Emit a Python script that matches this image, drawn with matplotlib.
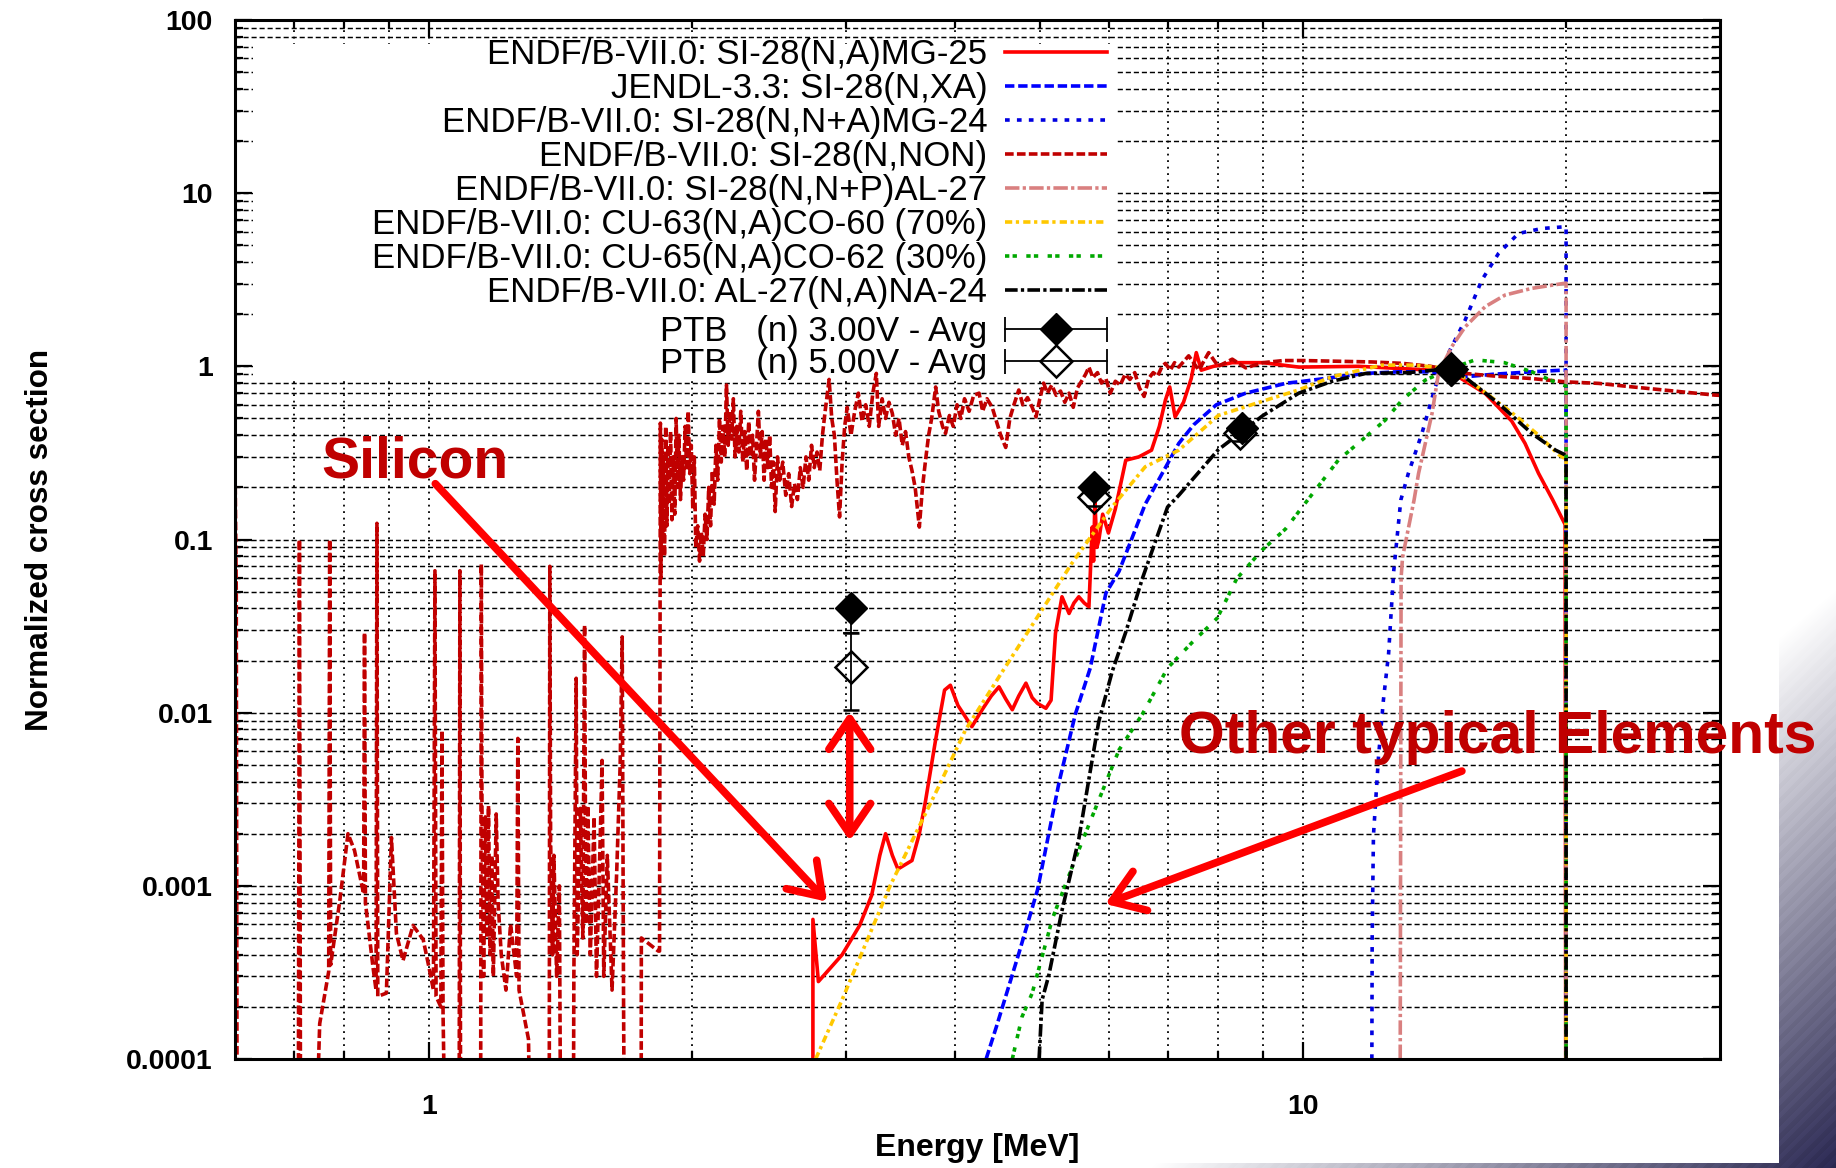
import numpy as np
import matplotlib.pyplot as plt
from matplotlib.lines import Line2D
from matplotlib.patches import Rectangle
from matplotlib.legend_handler import HandlerLine2D, HandlerTuple
from matplotlib.ticker import FixedLocator, FixedFormatter, NullFormatter

plt.rcParams['font.family'] = ['Liberation Sans', 'DejaVu Sans']

# ---- curves: (energy [MeV], normalized cross section) ----
# 1e-6 marks "zero" (falls below the axis)
si28_na_mg25 = [(2.75, 1e-6), (2.75, 6.4e-4), (2.79, 2.8e-4), (2.97, 4.0e-4), (3.11, 5.9e-4),
                (3.21, 8.8e-4), (3.28, 1.5e-3), (3.33, 2.0e-3), (3.39, 1.5e-3), (3.44, 1.25e-3),
                (3.57, 1.4e-3), (3.64, 2.0e-3), (3.70, 3.1e-3), (3.80, 7.0e-3), (3.89, 0.0135),
                (3.95, 0.0144), (4.03, 0.011), (4.18, 0.0083), (4.30, 0.0105), (4.40, 0.0125),
                (4.49, 0.0141), (4.57, 0.012), (4.65, 0.0104), (4.73, 0.0125), (4.82, 0.0148),
                (4.90, 0.0122), (4.97, 0.0113), (5.08, 0.0106), (5.15, 0.0118), (5.21, 0.0287),
                (5.30, 0.0467), (5.40, 0.0374), (5.47, 0.043), (5.54, 0.0467), (5.62, 0.043),
                (5.69, 0.0409), (5.74, 0.118), (5.76, 0.075), (5.78, 0.169), (5.81, 0.09),
                (5.84, 0.099), (5.90, 0.14), (5.99, 0.109), (6.10, 0.15), (6.27, 0.287),
                (6.49, 0.30), (6.71, 0.328), (6.85, 0.45), (6.96, 0.638), (7.04, 0.76),
                (7.14, 0.511), (7.30, 0.62), (7.45, 0.85), (7.55, 1.2), (7.65, 0.95),
                (7.9, 1.0), (8.3, 1.05), (9.0, 1.05), (9.89, 0.99), (11.58, 1.0),
                (14.05, 0.95), (15.0, 0.88), (16.16, 0.698), (17.33, 0.483), (17.95, 0.359),
                (18.6, 0.241), (19.3, 0.17), (19.95, 0.122), (20.0, 1e-6)]

jendl_si28_nxa = [(4.34, 1e-4), (4.46, 1.54e-4), (4.73, 4.06e-4), (4.97, 9.5e-4), (5.26, 3.97e-3),
                  (5.49, 9.8e-3), (5.71, 0.0181), (5.95, 0.049), (6.16, 0.0655), (6.6, 0.16),
                  (7.21, 0.359), (7.5, 0.46), (7.96, 0.6), (8.6, 0.7), (9.58, 0.8), (9.89, 0.814),
                  (11.78, 0.91), (12.86, 0.93), (14.0, 0.93), (15.33, 0.87), (16.5, 0.9),
                  (18.27, 0.93), (19.8, 0.95), (20.0, 0.95), (20.0, 1e-6)]

si28_nna_mg24 = [(11.99, 1e-4), (12.0, 5e-4), (12.04, 1.95e-3), (12.2, 5.5e-3), (12.36, 0.0118),
                 (12.53, 0.0219), (12.7, 0.0655), (12.94, 0.169), (13.2, 0.241), (13.68, 0.41),
                 (14.17, 0.762), (14.67, 1.19), (15.33, 1.85), (16.02, 3.15), (16.74, 4.49),
                 (17.64, 5.85), (18.76, 6.25), (19.86, 6.39), (20.0, 6.4), (20.0, 1e-6)]

si28_non = [(0.600, 0.28), (0.602, 0.05), (0.604, 1e-6),
            (0.708, 1e-6), (0.711, 0.10), (0.714, 1e-6),
            (0.727, 1e-6), (0.75, 1.6e-4), (0.768, 3.2e-4), (0.770, 0.10), (0.772, 3.5e-4),
            (0.791, 8.3e-4), (0.808, 2.0e-3), (0.822, 1.6e-3), (0.835, 1.1e-3), (0.842, 9e-4),
            (0.844, 0.029), (0.846, 8e-4), (0.863, 3.4e-4), (0.870, 2.5e-4), (0.872, 0.124),
            (0.874, 2.3e-4), (0.894, 2.4e-4), (0.906, 1.9e-3), (0.918, 5.3e-4), (0.934, 3.7e-4),
            (0.959, 5.9e-4), (0.985, 4.9e-4), (1.0, 3.4e-4), (1.012, 2.5e-4), (1.016, 0.066),
            (1.019, 2.3e-4), (1.032, 2.0e-4), (1.035, 0.0079), (1.038, 1.8e-4), (1.055, 1e-6),
            (1.082, 1e-6), (1.085, 0.066), (1.088, 1e-6),
            (1.145, 1e-6), (1.148, 0.072), (1.150, 2.8e-3), (1.155, 3e-4), (1.160, 2.5e-3),
            (1.165, 5e-4), (1.170, 2.9e-3), (1.175, 4e-4), (1.180, 1.5e-3), (1.185, 3e-4),
            (1.194, 2.6e-3), (1.20, 8e-4), (1.21, 4e-4), (1.225, 2.5e-4), (1.24, 6e-4),
            (1.26, 3e-4), (1.264, 0.0071), (1.268, 2.5e-4), (1.30, 1.3e-4), (1.32, 1e-6),
            (1.372, 1e-6), (1.375, 0.07), (1.378, 1.8e-3), (1.385, 4e-4), (1.39, 1.5e-3),
            (1.40, 3e-4), (1.41, 1.0e-3), (1.42, 1e-6),
            (1.46, 1e-6), (1.465, 3e-4), (1.474, 0.0158), (1.478, 4e-4), (1.49, 2.8e-3),
            (1.50, 5e-4), (1.507, 0.032), (1.512, 6e-4), (1.52, 2.9e-3), (1.53, 4e-4),
            (1.545, 2.5e-3), (1.555, 3e-4), (1.57, 1.8e-3), (1.578, 5.3e-3), (1.585, 3e-4),
            (1.60, 1.5e-3), (1.62, 2.5e-4), (1.64, 1.2e-3), (1.655, 5e-3), (1.664, 0.0274),
            (1.67, 2e-4), (1.68, 1e-6),
            (1.748, 1e-6), (1.750, 5e-4), (1.83, 4.2e-4), (1.836, 4.2e-4),
            (1.840, 0.47), (1.843, 0.06), (1.846, 0.38), (1.850, 0.10), (1.855, 0.30),
            (1.860, 0.08), (1.866, 0.45), (1.872, 0.12), (1.878, 0.35), (1.884, 0.16),
            (1.890, 0.42), (1.897, 0.13), (1.904, 0.30), (1.911, 0.14), (1.918, 0.50),
            (1.925, 0.20), (1.932, 0.40), (1.940, 0.17), (1.948, 0.30), (1.956, 0.22),
            (1.964, 0.45), (1.972, 0.25), (1.980, 0.55), (1.988, 0.24), (1.996, 0.35),
            (2.004, 0.15), (2.012, 0.30), (2.020, 0.09), (2.030, 0.12), (2.040, 0.075),
            (2.050, 0.11), (2.060, 0.08), (2.070, 0.14), (2.080, 0.10), (2.090, 0.20),
            (2.100, 0.12), (2.110, 0.25), (2.120, 0.16), (2.130, 0.35), (2.140, 0.22),
            (2.150, 0.50), (2.160, 0.28), (2.170, 0.45), (2.180, 0.30), (2.190, 0.78),
            (2.200, 0.35), (2.210, 0.55), (2.220, 0.38), (2.230, 0.65), (2.240, 0.30),
            (2.250, 0.45), (2.262, 0.32), (2.274, 0.55), (2.286, 0.28), (2.298, 0.42),
            (2.310, 0.25), (2.322, 0.48), (2.334, 0.30), (2.346, 0.40), (2.358, 0.22),
            (2.370, 0.35), (2.382, 0.55), (2.394, 0.30), (2.406, 0.42), (2.418, 0.22),
            (2.430, 0.38), (2.442, 0.26), (2.454, 0.40), (2.466, 0.20), (2.478, 0.28),
            (2.490, 0.145), (2.505, 0.30), (2.52, 0.22), (2.54, 0.28), (2.56, 0.18),
            (2.58, 0.24), (2.60, 0.155), (2.62, 0.21), (2.64, 0.17), (2.66, 0.26),
            (2.68, 0.20), (2.70, 0.30), (2.72, 0.22), (2.74, 0.35), (2.76, 0.26),
            (2.78, 0.32), (2.80, 0.25), (2.82, 0.40), (2.84, 0.55), (2.87, 0.84),
            (2.89, 0.50), (2.91, 0.40), (2.93, 0.22), (2.95, 0.135), (2.97, 0.28),
            (2.99, 0.45), (3.01, 0.58), (3.04, 0.40), (3.07, 0.55), (3.10, 0.70),
            (3.13, 0.48), (3.16, 0.60), (3.19, 0.45), (3.22, 0.70), (3.25, 0.91),
            (3.27, 0.45), (3.30, 0.65), (3.33, 0.50), (3.36, 0.62), (3.39, 0.535),
            (3.42, 0.40), (3.45, 0.50), (3.48, 0.35), (3.51, 0.42), (3.54, 0.30),
            (3.57, 0.25), (3.60, 0.20), (3.64, 0.118), (3.67, 0.20), (3.70, 0.287),
            (3.73, 0.40), (3.76, 0.50), (3.80, 0.76), (3.83, 0.55), (3.87, 0.45),
            (3.90, 0.41), (3.94, 0.52), (3.98, 0.45), (4.02, 0.60), (4.06, 0.50),
            (4.10, 0.65), (4.15, 0.55), (4.20, 0.68), (4.26, 0.70), (4.30, 0.55),
            (4.35, 0.65), (4.41, 0.58), (4.46, 0.48), (4.51, 0.40), (4.57, 0.34),
            (4.62, 0.50), (4.67, 0.60), (4.73, 0.73), (4.78, 0.60), (4.84, 0.66),
            (4.90, 0.58), (4.95, 0.51), (5.00, 0.65), (5.05, 0.80), (5.10, 0.70),
            (5.16, 0.78), (5.22, 0.68), (5.28, 0.72), (5.34, 0.62), (5.40, 0.70),
            (5.46, 0.58), (5.52, 0.75), (5.58, 0.82), (5.64, 0.90), (5.69, 0.99),
            (5.75, 0.86), (5.82, 0.92), (5.88, 0.80), (5.95, 0.85), (6.02, 0.70),
            (6.10, 0.82), (6.18, 0.78), (6.26, 0.90), (6.34, 0.84), (6.42, 0.92),
            (6.50, 0.75), (6.58, 0.67), (6.66, 0.85), (6.74, 0.92), (6.82, 0.88),
            (6.90, 1.0), (6.96, 1.04), (7.05, 0.95), (7.13, 1.05), (7.21, 0.99),
            (7.4, 1.15), (7.6, 0.95), (7.8, 1.2), (8.0, 1.0), (8.3, 1.1), (8.6, 0.98),
            (9.0, 1.05), (9.5, 1.08), (10.0, 1.08), (11.0, 1.07), (12.0, 1.06), (13.0, 1.04),
            (14.0, 1.0), (15.33, 0.91), (16.5, 0.88), (18.27, 0.85), (19.95, 0.814),
            (21.8, 0.797), (23.8, 0.761), (25.95, 0.729), (29.6, 0.682), (30.0, 0.68)]

si28_nnp_al27 = [(12.92, 1e-4), (12.95, 0.06), (13.0, 0.079), (13.4, 0.169), (13.56, 0.241),
                 (14.05, 0.535), (14.29, 0.91), (14.8, 1.3), (15.33, 1.69), (16.16, 2.21),
                 (17.03, 2.58), (18.27, 2.82), (19.26, 2.94), (19.86, 3.01), (20.0, 3.02),
                 (20.0, 1e-6)]

cu63_na_co60 = [(2.77, 1e-4), (2.97, 2.2e-4), (3.37, 1.0e-3), (3.83, 3.74e-3), (4.11, 7.94e-3),
                (4.49, 0.0161), (4.97, 0.0358), (5.44, 0.0728), (6.05, 0.1545), (6.6, 0.263),
                (7.21, 0.328), (8.0, 0.52), (9.0, 0.63), (9.89, 0.731), (10.79, 0.87),
                (12.31, 1.016), (13.4, 1.016), (14.75, 0.97), (16.02, 0.731), (17.5, 0.52),
                (18.6, 0.40), (19.6, 0.31), (20.0, 0.29), (20.0, 1e-6)]

cu65_na_co62 = [(4.65, 1e-4), (4.77, 1.75e-4), (4.90, 2.4e-4), (5.17, 6.5e-4), (5.54, 1.61e-3),
                (5.84, 3.13e-3), (6.16, 6.1e-3), (6.55, 9.8e-3), (7.0, 0.0181), (7.46, 0.0253),
                (7.98, 0.0352), (8.4, 0.0595), (8.98, 0.0869), (9.55, 0.115), (10.05, 0.161),
                (10.98, 0.288), (11.68, 0.375), (12.42, 0.489), (12.98, 0.638), (13.8, 0.832),
                (14.75, 0.97), (15.74, 1.09), (17.0, 1.05), (18.27, 0.93), (19.6, 0.794),
                (20.0, 0.77), (20.0, 1e-6)]

al27_na_na24 = [(4.99, 1e-4), (5.03, 2.2e-4), (5.12, 3.05e-4), (5.30, 7.2e-4), (5.54, 1.86e-3),
                (5.71, 4.6e-3), (5.84, 8.9e-3), (6.05, 0.0173), (6.27, 0.0292), (6.55, 0.0595),
                (7.0, 0.154), (7.21, 0.18), (8.0, 0.33), (9.0, 0.52), (9.89, 0.70), (10.8, 0.82),
                (11.8, 0.91), (13.2, 0.92), (14.75, 0.97), (15.3, 0.87), (16.74, 0.61),
                (18.27, 0.41), (19.45, 0.328), (19.9, 0.31), (20.0, 0.30), (20.0, 1e-6)]

# PTB measurements (diamonds with error bars)
ptb3_e = [3.04, 5.77, 8.52, 14.75]
ptb3_y = [0.040, 0.20, 0.443, 0.95]
ptb3_lo = [0.011, 0.02, 0.04, 0.08]
ptb3_hi = [0.003, 0.02, 0.04, 0.08]
ptb5_e = [3.04, 5.77, 8.47, 14.75]
ptb5_y = [0.0184, 0.176, 0.41, 0.97]
ptb5_lo = [0.008, 0.02, 0.04, 0.08]
ptb5_hi = [0.0103, 0.02, 0.04, 0.08]

x_major = [1, 10]
x_major_labels = ['1', '10']
x_minor = [0.7, 0.8, 0.9, 2, 3, 4, 5, 6, 7, 8, 9, 20]
y_major = [1e-4, 1e-3, 1e-2, 1e-1, 1, 10, 100]
y_major_labels = ['0.0001', '0.001', '0.01', '0.1', '1', '10', '100']

W, H = 1836, 1168
fig = plt.figure(figsize=(W / 100, H / 100), dpi=100)

# slide background: white chart area, striped purple gradient in the bottom-right corner
bg = fig.add_axes([0, 0, 1, 1], zorder=-10)
yy, xx = np.mgrid[0:H, 0:W]
s = np.clip(1 + (548 * (xx - W) + 650 * (yy - H)) / 375928.0, 0, 1)
stripe = 1 - 0.07 * s * (np.sin(2 * np.pi * (xx + yy) / 14.0) > 0)
navy = np.array([0.17, 0.16, 0.33])
img = (1 - s[..., None]) + s[..., None] * navy
img = img * stripe[..., None]
img[:1163, :1779] = 1.0
bg.imshow(img, extent=[0, W, H, 0], aspect='auto', interpolation='nearest')
bg.set_xlim(0, W)
bg.set_ylim(H, 0)
bg.axis('off')

ax = fig.add_axes([235 / W, 1 - 1059 / H, 1485 / W, 1039 / H])
ax.set_xscale('log')
ax.set_yscale('log')

# opaque key box (hides the grid behind the legend, curves go over it)
ax.add_patch(Rectangle((0.012, 0.656), 0.581, 0.321, transform=ax.transAxes,
                       facecolor='white', edgecolor='none', zorder=1))

series = [
    (si28_na_mg25, 'ENDF/B-VII.0: SI-28(N,A)MG-25', '#FF0000', '-', 2.6),
    (jendl_si28_nxa, 'JENDL-3.3: SI-28(N,XA)', '#0000FF', (0, (2.6, 1.05)), 2.6),
    (si28_nna_mg24, 'ENDF/B-VII.0: SI-28(N,N+A)MG-24', '#0000E0', (0, (1.3, 2.0)), 2.6),
    (si28_non, 'ENDF/B-VII.0: SI-28(N,NON)', '#C00000', (0, (2.4, 0.9)), 2.6),
    (si28_nnp_al27, 'ENDF/B-VII.0: SI-28(N,N+P)AL-27', '#D98080', (0, (4.0, 0.9, 0.9, 0.9)), 2.6),
    (cu63_na_co60, 'ENDF/B-VII.0: CU-63(N,A)CO-60 (70%)', '#FFC800', (0, (2.0, 1.0, 0.9, 1.15)), 2.6),
    (cu65_na_co62, 'ENDF/B-VII.0: CU-65(N,A)CO-62 (30%)', '#00A800', (0, (1.2, 0.9, 1.2, 2.6)), 2.6),
    (al27_na_na24, 'ENDF/B-VII.0: AL-27(N,A)NA-24', 'black', (0, (3.5, 0.9, 0.9, 0.9)), 2.6),
]
line_handles = []
for pts, label, color, ls, lw in series:
    e, y = np.array(pts).T
    h, = ax.plot(e, y, color=color, linestyle=ls, lw=lw, label=label, zorder=2)
    line_handles.append(h)

ax.errorbar(ptb3_e, ptb3_y, yerr=[ptb3_lo, ptb3_hi], fmt='D', color='black', ms=16,
            ecolor='black', elinewidth=1.3, capsize=6, capthick=1.3, zorder=4)
ax.errorbar(ptb5_e, ptb5_y, yerr=[ptb5_lo, ptb5_hi], fmt='D', color='black', mfc='none',
            mec='black', mew=1.8, ms=16, ecolor='black', elinewidth=1.3, capsize=6,
            capthick=1.3, zorder=4)

ax.set_xlim(0.6, 30)
ax.set_ylim(1e-4, 100)
ax.xaxis.set_major_locator(FixedLocator(x_major))
ax.xaxis.set_major_formatter(FixedFormatter(x_major_labels))
ax.xaxis.set_minor_locator(FixedLocator(x_minor))
ax.xaxis.set_minor_formatter(NullFormatter())
ax.yaxis.set_major_locator(FixedLocator(y_major))
ax.yaxis.set_major_formatter(FixedFormatter(y_major_labels))
ax.yaxis.set_minor_locator(FixedLocator([m * 10.0 ** k for k in range(-4, 2) for m in range(2, 10)]))
ax.yaxis.set_minor_formatter(NullFormatter())

ax.tick_params(which='both', direction='in', top=True, right=True, width=1.6, color='black')
ax.tick_params(which='major', length=12)
ax.tick_params(which='minor', length=6)
ax.tick_params(axis='y', which='major', pad=16, labelsize=20.5)
ax.tick_params(axis='x', which='major', pad=25, labelsize=20.5)
for lbl in ax.get_xticklabels() + ax.get_yticklabels():
    lbl.set_fontweight('bold')

ax.grid(True, axis='y', which='both', color='black', linestyle=(0, (3.5, 2)), linewidth=1.05)
ax.grid(True, axis='x', which='both', color='black', linestyle=(0, (1, 2.6)), linewidth=1.3)
ax.set_axisbelow(True)
for sp in ax.spines.values():
    sp.set_linewidth(2.2)

ax.set_xlabel('Energy [MeV]', fontsize=23, fontweight='bold')
ax.xaxis.set_label_coords(0.5, -0.071)
ax.set_ylabel('Normalized cross section', fontsize=22.7, fontweight='bold')
ax.yaxis.set_label_coords(-0.121, 0.5)

# legend, gnuplot style: text right-aligned, sample on the right
leg_kw = dict(loc='upper right', frameon=False, markerfirst=False, fontsize=25,
              handlelength=2.95, handletextpad=0.5, borderpad=0, borderaxespad=0)
leg1 = ax.legend(handles=line_handles, bbox_to_anchor=(0.5872, 0.983),
                 labelspacing=0.03, **leg_kw)
leg1.set_zorder(6)
ax.add_artist(leg1)

bar3 = Line2D([], [], color='black', lw=1.3, marker='|', ms=18, mew=1.3)
bar5 = Line2D([], [], color='black', lw=1.3, marker='|', ms=18, mew=1.3)
dia3 = Line2D([], [], ls='none', marker='D', ms=16, color='black')
dia5 = Line2D([], [], ls='none', marker='D', ms=16, mfc='none', mec='black', mew=1.8)
leg2 = ax.legend(handles=[(bar3, dia3), (bar5, dia5)],
                 labels=['PTB   (n) 3.00V - Avg', 'PTB   (n) 5.00V - Avg'],
                 handler_map={tuple: HandlerTuple(ndivide=1, pad=0),
                              bar3: HandlerLine2D(numpoints=2, marker_pad=0),
                              bar5: HandlerLine2D(numpoints=2, marker_pad=0)},
                 bbox_to_anchor=(0.5872, 0.7164), labelspacing=-0.02, **leg_kw)
leg2.set_zorder(6)

# slide annotations
arrow_kw = dict(arrowstyle='->,head_length=1.1,head_width=0.75', color='#FF0000', lw=5.5,
                shrinkA=0, shrinkB=0, mutation_scale=20)
ax.annotate('', xy=(2.854, 8.1e-4), xytext=(1.017, 0.21), arrowprops=arrow_kw, zorder=10)
ax.annotate('', xy=(5.94, 7.86e-4), xytext=(15.2, 4.6e-3), arrowprops=arrow_kw, zorder=10)
ax.annotate('', xy=(3.03, 0.0101), xytext=(3.03, 0.00182),
            arrowprops=dict(arrow_kw, arrowstyle='<->,head_length=1.1,head_width=0.75'), zorder=10)
ax.text(0.754, 0.227, 'Silicon', color='#C00000', fontsize=41, fontweight='bold',
        ha='left', va='baseline', zorder=10)
ax.text(7.22, 5.85e-3, 'Other typical Elements', color='#C00000', fontsize=42.4,
        fontweight='bold', ha='left', va='baseline', zorder=10, clip_on=False)

fig.savefig('out.png', dpi=100)
